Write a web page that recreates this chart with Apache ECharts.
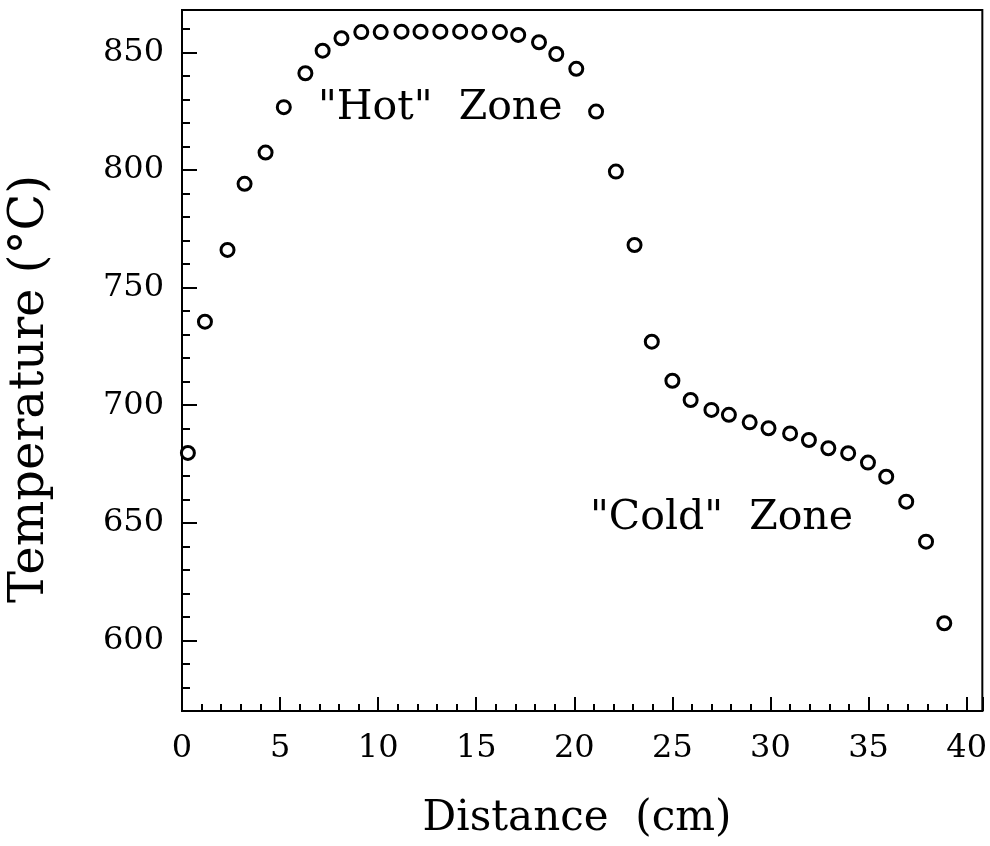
<!DOCTYPE html>
<html>
<head>
<meta charset="utf-8">
<script src="https://cdn.jsdelivr.net/npm/echarts@6/dist/echarts.min.js"></script>
<style>
  html, body { margin: 0; padding: 0; background: #fff; }
  #chart { width: 990px; height: 846px; }
</style>
</head>
<body>
<div id="chart"></div>
<script>
// distance along the furnace (cm)
const distance = [
    0.3, 1.17, 2.32, 3.19, 4.26, 5.19, 6.29, 7.17, 8.13, 9.14,
    10.13, 11.19, 12.16, 13.17, 14.18, 15.16, 16.21, 17.14, 18.2, 19.08,
    20.1, 21.11, 22.12, 23.07, 23.95, 25.0, 25.93, 26.99, 27.88, 28.94,
    29.9, 31.0, 31.96, 32.95, 33.96, 34.97, 35.9, 36.92, 37.93, 38.86
];
// measured temperature (°C)
const temperature = [
    679.7, 735.5, 766.0, 794.1, 807.4, 826.7, 841.1, 850.7, 856.0, 858.6,
    858.6, 858.8, 858.8, 858.8, 858.8, 858.6, 858.6, 857.4, 854.3, 849.3,
    843.0, 824.8, 799.3, 768.1, 727.0, 710.4, 702.2, 698.0, 695.9, 692.7,
    690.2, 688.0, 685.2, 681.7, 679.6, 675.6, 669.6, 659.0, 642.0, 607.3
];

const xRange = [0, 40.8];
const yRange = [570, 868];
const xLabelStep = 5;
const yLabelStep = 50;

const FONT = '"DejaVu Serif", "Liberation Serif", serif';

const chart = echarts.init(document.getElementById('chart'));

const points = distance.map((d, i) => [d, temperature[i]]);

const option = {
    backgroundColor: '#fff',
    animation: false,
    grid: {
        left: 182, right: 3, top: 10, bottom: 135,
        show: true,
        borderColor: '#000',
        borderWidth: 2
    },
    xAxis: [
        {   // minor ticks, every 1 cm
            type: 'value', position: 'bottom',
            min: xRange[0], max: xRange[1], interval: 1,
            axisLine: { show: true, onZero: false, lineStyle: { color: '#000', width: 2 } },
            axisTick: { show: true, inside: true, length: 7, lineStyle: { color: '#000', width: 2 } },
            axisLabel: { show: false },
            splitLine: { show: false }
        },
        {   // major ticks and labels, every 5 cm
            type: 'value', position: 'bottom',
            min: xRange[0], max: xRange[1], interval: xLabelStep,
            axisLine: { show: false, onZero: false },
            axisTick: { show: true, inside: true, length: 14, lineStyle: { color: '#000', width: 2 } },
            axisLabel: {
                show: true, margin: 22, color: '#000',
                fontFamily: FONT, fontSize: 32,
                formatter: v => (v % xLabelStep === 0 ? String(v) : '')
            },
            splitLine: { show: false }
        }
    ],
    yAxis: [
        {   // minor ticks, every 10 °C
            type: 'value', position: 'left',
            min: yRange[0], max: yRange[1], interval: 10,
            axisLine: { show: true, onZero: false, lineStyle: { color: '#000', width: 2 } },
            axisTick: { show: true, inside: true, length: 8, lineStyle: { color: '#000', width: 2 } },
            axisLabel: { show: false },
            splitLine: { show: false }
        },
        {   // major ticks and labels, every 50 °C
            type: 'value', position: 'left',
            min: yRange[0], max: yRange[1], splitNumber: 5,
            axisLine: { show: false, onZero: false },
            axisTick: { show: true, inside: true, length: 15, lineStyle: { color: '#000', width: 2 } },
            axisLabel: {
                show: true, margin: 18, color: '#000',
                fontFamily: FONT, fontSize: 32,
                showMinLabel: false, showMaxLabel: false,
                formatter: v => (v % yLabelStep === 0 ? String(v) : '')
            },
            splitLine: { show: false }
        }
    ],
    graphic: [
        {
            type: 'text', x: 31, y: 389, rotation: Math.PI / 2,
            style: {
                text: 'Temperature (°C)', fill: '#000',
                font: '48px ' + FONT, textAlign: 'center', textVerticalAlign: 'middle'
            }
        },
        {
            type: 'text', x: 577, y: 819,
            style: {
                text: 'Distance  (cm)', fill: '#000',
                font: '42px ' + FONT, textAlign: 'center', textVerticalAlign: 'middle'
            }
        },
        {
            type: 'text', x: 318, y: 108,
            style: {
                text: '"Hot"  Zone', fill: '#000',
                font: '41px ' + FONT, textAlign: 'left', textVerticalAlign: 'middle'
            }
        },
        {
            type: 'text', x: 590, y: 518,
            style: {
                text: '"Cold"  Zone', fill: '#000',
                font: '41px ' + FONT, textAlign: 'left', textVerticalAlign: 'middle'
            }
        }
    ],
    series: [
        {
            type: 'scatter',
            xAxisIndex: 0, yAxisIndex: 0,
            data: points,
            symbol: 'circle',
            symbolSize: 13,
            itemStyle: { color: '#fff', borderColor: '#000', borderWidth: 3, opacity: 1 },
            z: 5
        }
    ]
};

chart.setOption(option);

window.addEventListener('resize', () => chart.resize());
</script>
</body>
</html>
